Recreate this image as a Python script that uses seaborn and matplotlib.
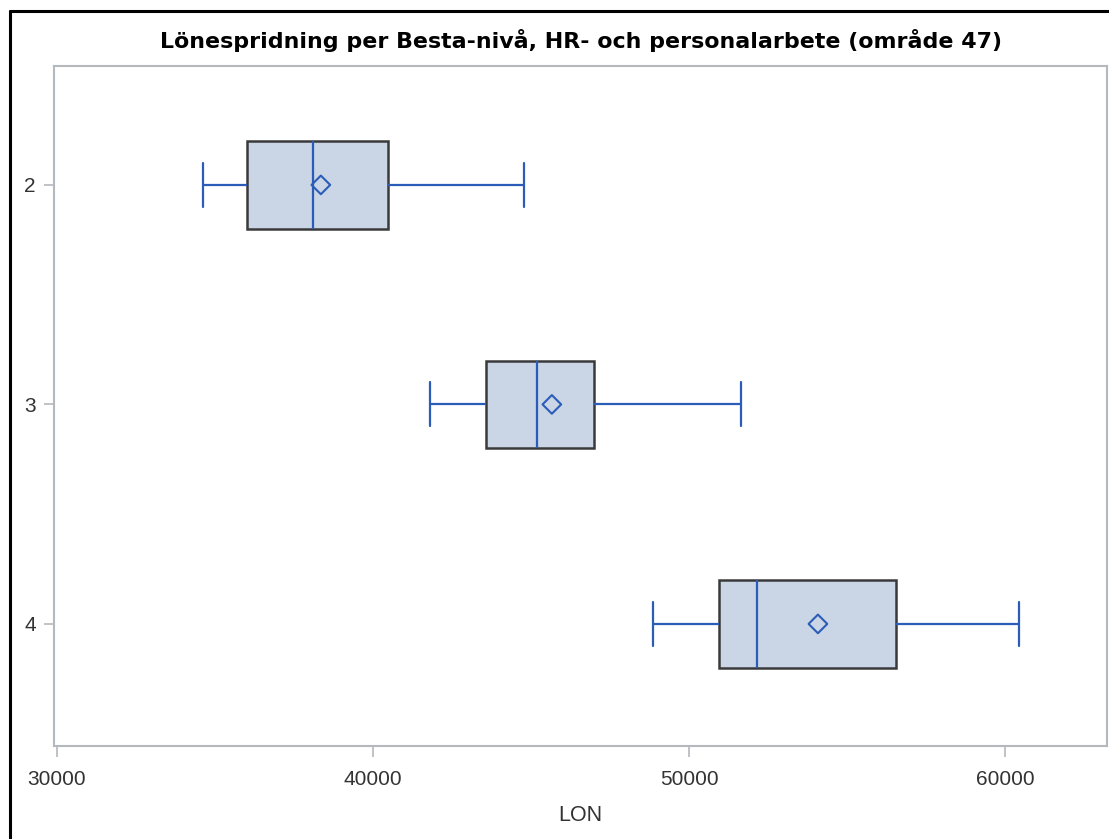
import numpy as np
import pandas as pd
import matplotlib
matplotlib.use("Agg")
import matplotlib.pyplot as plt
import seaborn as sns
from matplotlib.lines import Line2D

# Besta levels and salary summary
levels = ["2", "3", "4"]
lon_min = [34620, 41800, 48860]
lon_q1 = [36010, 43580, 50950]
lon_median = [38100, 45190, 52150]
lon_q3 = [40480, 46990, 56550]
lon_max = [44780, 51650, 60440]
lon_mean = [38350, 45660, 54080]

box_fill = "#CAD5E5"
box_edge = "#3A3A3A"
blue = "#2B5DB8"
axis_grey = "#B4B9BD"

sns.set_style("white")
plt.rcParams["font.family"] = ["Liberation Sans", "DejaVu Sans"]

# long form table: the five summary values per level
rows = []
for i, lev in enumerate(levels):
    for v in [lon_min[i], lon_q1[i], lon_median[i], lon_q3[i], lon_max[i]]:
        rows.append({"BESTA": lev, "LON": v})
df = pd.DataFrame(rows)

fig = plt.figure(figsize=(11.09, 8.39), dpi=100)
ax = fig.add_axes([0.0487, 0.1109, 0.9495, 0.8105])

sns.boxplot(data=df, x="LON", y="BESTA", order=levels, orient="h", ax=ax,
            whis=(0, 100), width=0.4, color=box_fill, fliersize=0,
            linewidth=1.6,
            boxprops=dict(facecolor=box_fill, edgecolor=box_edge, linewidth=1.8),
            medianprops=dict(color=blue, linewidth=1.6),
            whiskerprops=dict(color=blue, linewidth=1.6),
            capprops=dict(color=blue, linewidth=1.6))

# mean markers
sns.stripplot(x=lon_mean, y=levels, order=levels, orient="h", ax=ax,
              jitter=False, marker="D", size=9.5, color=blue,
              facecolor="none", edgecolor=blue, linewidth=1.5, zorder=5)

ax.set_xlim(29905, 63228)
ax.set_ylim(2.556, -0.542)
ax.set_xticks([30000, 40000, 50000, 60000])
ax.set_xticklabels(["30000", "40000", "50000", "60000"])

for s in ax.spines.values():
    s.set_color(axis_grey)
    s.set_linewidth(1.5)

ax.tick_params(axis="both", which="both", direction="out", length=8,
               width=1.2, color=axis_grey, labelsize=15, labelcolor="#333333",
               bottom=True, left=True)
ax.tick_params(axis="y", length=7, pad=6)
ax.tick_params(axis="x", pad=9)

ax.set_ylabel("")
ax.set_xlabel("LON", fontsize=15.5, color="#333333", labelpad=12)
ax.set_title("Lönespridning per Besta-nivå, HR- och personalarbete (område 47)",
             fontsize=15.9, fontweight="bold", color="black", pad=13,
             family=["DejaVu Sans"])

# outer black frame (left and top edges visible)
fig.add_artist(Line2D([10 / 1109, 10 / 1109], [0, 1 - 11 / 839],
                      transform=fig.transFigure, color="black", linewidth=2.2))
fig.add_artist(Line2D([10 / 1109, 1], [1 - 11 / 839, 1 - 11 / 839],
                      transform=fig.transFigure, color="black", linewidth=2.2))

fig.savefig("out.png", dpi=100)
